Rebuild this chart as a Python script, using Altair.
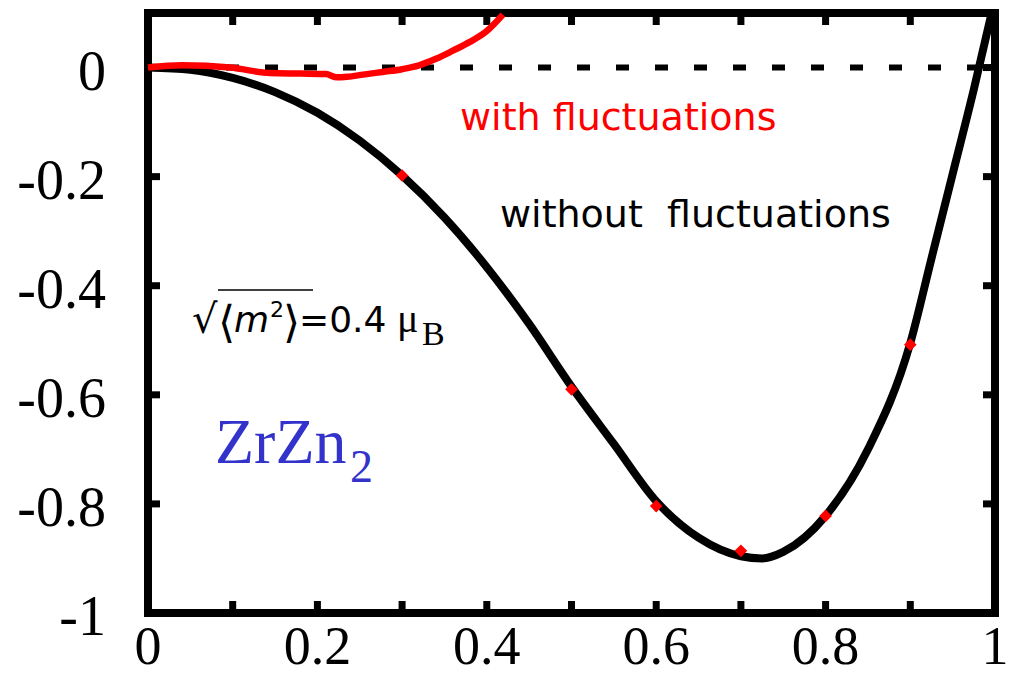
import altair as alt
import pandas as pd

# Energy curve without spin fluctuations (x: reduced magnetisation)
x_bare = [0.0, 0.05, 0.10, 0.15, 0.20, 0.25, 0.30, 0.35, 0.40, 0.45, 0.50,
          0.55, 0.60, 0.65, 0.70, 0.725, 0.75, 0.80, 0.85, 0.90, 0.925, 0.95, 0.975, 0.996]
e_bare = [0.0, -0.004, -0.019, -0.045, -0.083, -0.134, -0.198, -0.275, -0.366, -0.47, -0.585,
          -0.69, -0.795, -0.862, -0.896, -0.90, -0.888, -0.822, -0.70, -0.505, -0.35, -0.195, -0.04, 0.1]

# Energy curve with spin fluctuations
x_fluct = [0.0, 0.04, 0.097, 0.144, 0.18, 0.21, 0.223, 0.235, 0.254, 0.277, 0.30,
           0.32, 0.34, 0.36, 0.38, 0.40, 0.419]
e_fluct = [0.0, 0.004, 0.0, -0.01, -0.011, -0.012, -0.018, -0.017, -0.013, -0.008, -0.003,
           0.004, 0.016, 0.031, 0.047, 0.067, 0.097]

# Computed points
x_pts = [0.3, 0.5, 0.6, 0.7, 0.8, 0.9]
e_pts = [-0.198, -0.59, -0.804, -0.886, -0.822, -0.508]

# Tick positions and labels
x_labels = [0, 0.2, 0.4, 0.6, 0.8, 1]
y_labels = [-1, -0.8, -0.6, -0.4, -0.2, 0]
x_marks = [0.1, 0.2, 0.3, 0.4, 0.5, 0.6, 0.7, 0.8, 0.9]
y_marks = [-0.8, -0.6, -0.4, -0.2, 0]

W, H = 847, 600
TL = 12
SERIF = "Liberation Serif"
SANS = "DejaVu Sans"

xs = alt.Scale(domain=[0, 1], nice=False, zero=False)
ys = alt.Scale(domain=[-1, 0.1], nice=False, zero=False)

bare = pd.DataFrame({"x": x_bare, "e": e_bare})
fluct = pd.DataFrame({"x": x_fluct, "e": e_fluct})
pts = pd.DataFrame({"x": x_pts, "e": e_pts})
xm = pd.DataFrame({"t": x_marks})
ym = pd.DataFrame({"t": y_marks})
xl = pd.DataFrame({"t": x_labels, "s": [f"{v:g}" for v in x_labels]})
yl = pd.DataFrame({"t": y_labels, "s": [f"{v:g}" for v in y_labels]})
zero = pd.DataFrame({"e": [0.0]})


def X(field="x"):
    return alt.X(f"{field}:Q", scale=xs, axis=None)


def Y(field="e"):
    return alt.Y(f"{field}:Q", scale=ys, axis=None)


# Inward tick marks on all four sides
rule = dict(color="black", strokeWidth=7)
ticks_bottom = alt.Chart(xm).mark_rule(**rule).encode(x=X("t"), y=alt.value(H), y2=alt.value(H - TL))
ticks_top = alt.Chart(xm).mark_rule(**rule).encode(x=X("t"), y=alt.value(0), y2=alt.value(TL))
ticks_left = alt.Chart(ym).mark_rule(**rule).encode(y=Y("t"), x=alt.value(0), x2=alt.value(TL))
ticks_right = alt.Chart(ym).mark_rule(**rule).encode(y=Y("t"), x=alt.value(W), x2=alt.value(W - TL))

# Tick labels
xlab = alt.Chart(xl).mark_text(
    font=SERIF, fontSize=54, color="black", align="center", baseline="alphabetic"
).encode(x=X("t"), y=alt.value(H + 51), text="s:N")
ylab = alt.Chart(yl).mark_text(
    font=SERIF, fontSize=56, color="black", align="right", baseline="alphabetic", dy=22
).encode(y=Y("t"), x=alt.value(-42), text="s:N")

zero_line = alt.Chart(zero).mark_rule(color="black", strokeWidth=6, strokeDash=[13, 26]).encode(
    y=Y("e"), x=alt.value(0), x2=alt.value(W))

bare_line = alt.Chart(bare).mark_line(
    color="black", strokeWidth=8, interpolate="monotone", strokeJoin="round"
).encode(x=X(), y=Y())

fluct_line = alt.Chart(fluct).mark_line(
    color="#ff0000", strokeWidth=6.5, interpolate="monotone", strokeJoin="round"
).encode(x=X(), y=Y())

points = alt.Chart(pts).mark_point(
    shape="diamond", filled=True, color="#ff0000", size=160, opacity=1
).encode(x=X(), y=Y())


def label(text, x, y, size, font=SANS, color="black", style="normal"):
    return alt.Chart(pd.DataFrame({"t": [text]})).mark_text(
        align="left", baseline="alphabetic", font=font, fontSize=size,
        fontStyle=style, color=color,
    ).encode(x=alt.value(x), y=alt.value(y), text="t:N")


texts = [
    label("with fluctuations", 312, 117, 38, color="#ff0000"),
    label("without \u00a0fluctuations", 352, 214, 38),
    label("√", 44, 320, 40),
    label("⟨", 70, 324, 44),
    label("m", 86, 319, 36, style="italic"),
    label("2", 122, 304, 22),
    label("⟩", 135, 324, 44),
    label("=0.4", 151, 319, 36),
    label("μ", 249, 319, 40, font=SERIF),
    label("B", 274, 332, 34, font=SERIF),
    label("ZrZn", 67, 450, 64, font=SERIF, color="#3333cc"),
    label("2", 202, 469, 46, font=SERIF, color="#3333cc"),
]

overbar = alt.Chart(zero).mark_rule(color="black", strokeWidth=1.5).encode(
    x=alt.value(70), x2=alt.value(165), y=alt.value(277))

chart = alt.layer(
    zero_line, ticks_bottom, ticks_top, ticks_left, ticks_right, xlab, ylab,
    bare_line, fluct_line, points, overbar, *texts,
).properties(
    width=W, height=H,
    autosize=alt.AutoSizeParams(type="none"),
    padding={"left": 148, "top": 13, "right": 20, "bottom": 63},
    background="white",
).configure_view(
    stroke="black", strokeWidth=8,
)

chart.save("out.html", embed_options={"renderer": "svg", "actions": False})
